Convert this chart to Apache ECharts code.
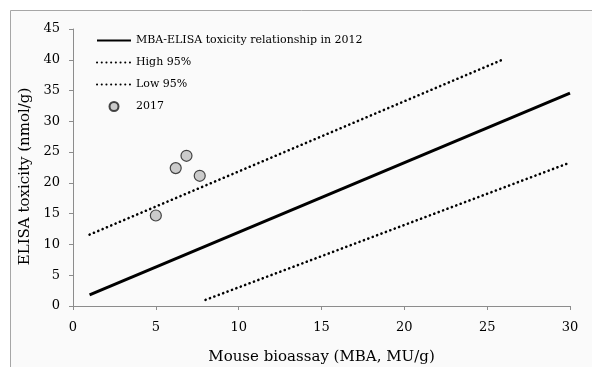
<!DOCTYPE html>
<html>
<head>
<meta charset="utf-8">
<script src="https://cdn.jsdelivr.net/npm/echarts@6/dist/echarts.min.js"></script>
<style>
  html, body { margin: 0; padding: 0; background: #ffffff; }
  #chart { width: 592px; height: 367px; }
</style>
</head>
<body>
<div id="chart"></div>
<script>
const fitLine = [[1, 1.8], [30, 34.6]];
const high95 = [[1, 11.6], [26, 40.1]];
const low95 = [[8, 1.0], [30, 23.3]];
const points2017 = [[5.0, 14.7], [6.2, 22.4], [6.85, 24.4], [7.65, 21.15]];

const serif = 'Century Schoolbook, "DejaVu Serif", serif';

const myChart = echarts.init(document.getElementById('chart'));

const dotted = {
  color: '#000',
  width: 2.6,
  type: [0.1, 4.6],
  cap: 'round'
};

// hide the marker on line entries in the legend, keep the line
const noMarker = { opacity: 0 };

const option = {
  animation: false,
  textStyle: { fontFamily: serif },
  graphic: [{
    type: 'rect',
    z: -10,
    shape: { x: 10.5, y: 10.5, width: 620, height: 400 },
    style: { fill: '#fafafa', stroke: '#a6a6a6', lineWidth: 1 }
  }],
  grid: { left: 73, right: 22, top: 29, bottom: 61, outerBoundsMode: 'none' },
  legend: {
    orient: 'vertical',
    left: 91,
    top: 30,
    itemWidth: 34,
    itemHeight: 9,
    itemGap: 11,
    textStyle: { fontFamily: serif, fontSize: 11, color: '#000' },
    data: [
      { name: 'MBA-ELISA toxicity relationship in 2012', itemStyle: noMarker },
      { name: 'High 95%', itemStyle: noMarker },
      { name: 'Low 95%', itemStyle: noMarker },
      { name: '2017', icon: 'circle' }
    ]
  },
  xAxis: {
    type: 'value',
    min: 0,
    max: 30,
    interval: 5,
    name: 'Mouse bioassay (MBA, MU/g)',
    nameLocation: 'middle',
    nameGap: 44,
    nameTextStyle: { fontFamily: serif, fontSize: 15, color: '#000' },
    axisLine: { lineStyle: { color: '#8c8c8c' } },
    axisTick: { show: true, length: 4, lineStyle: { color: '#8c8c8c' } },
    axisLabel: { fontFamily: serif, fontSize: 13, color: '#000', margin: 15 },
    splitLine: { show: false }
  },
  yAxis: {
    type: 'value',
    min: 0,
    max: 45,
    interval: 5,
    name: 'ELISA toxicity (nmol/g)',
    nameLocation: 'middle',
    nameGap: 38,
    nameTextStyle: { fontFamily: serif, fontSize: 15, color: '#000', padding: [0, 18, 0, 0] },
    axisLine: { show: true, lineStyle: { color: '#8c8c8c' } },
    axisTick: { show: true, length: 4, lineStyle: { color: '#8c8c8c' } },
    axisLabel: { fontFamily: serif, fontSize: 13, color: '#000', margin: 13 },
    splitLine: { show: false }
  },
  series: [
    {
      name: 'MBA-ELISA toxicity relationship in 2012',
      type: 'line',
      data: fitLine,
      symbol: 'none',
      lineStyle: { color: '#000', width: 3 },
      itemStyle: { color: '#000' }
    },
    {
      name: 'High 95%',
      type: 'line',
      data: high95,
      symbol: 'none',
      lineStyle: dotted,
      itemStyle: { color: '#000' }
    },
    {
      name: 'Low 95%',
      type: 'line',
      data: low95,
      symbol: 'none',
      lineStyle: dotted,
      itemStyle: { color: '#000' }
    },
    {
      name: '2017',
      type: 'scatter',
      data: points2017,
      symbol: 'circle',
      symbolSize: 11,
      itemStyle: { color: '#bfbfbf', borderColor: '#1a1a1a', borderWidth: 1.2 }
    }
  ]
};

option && myChart.setOption(option);
</script>
</body>
</html>
